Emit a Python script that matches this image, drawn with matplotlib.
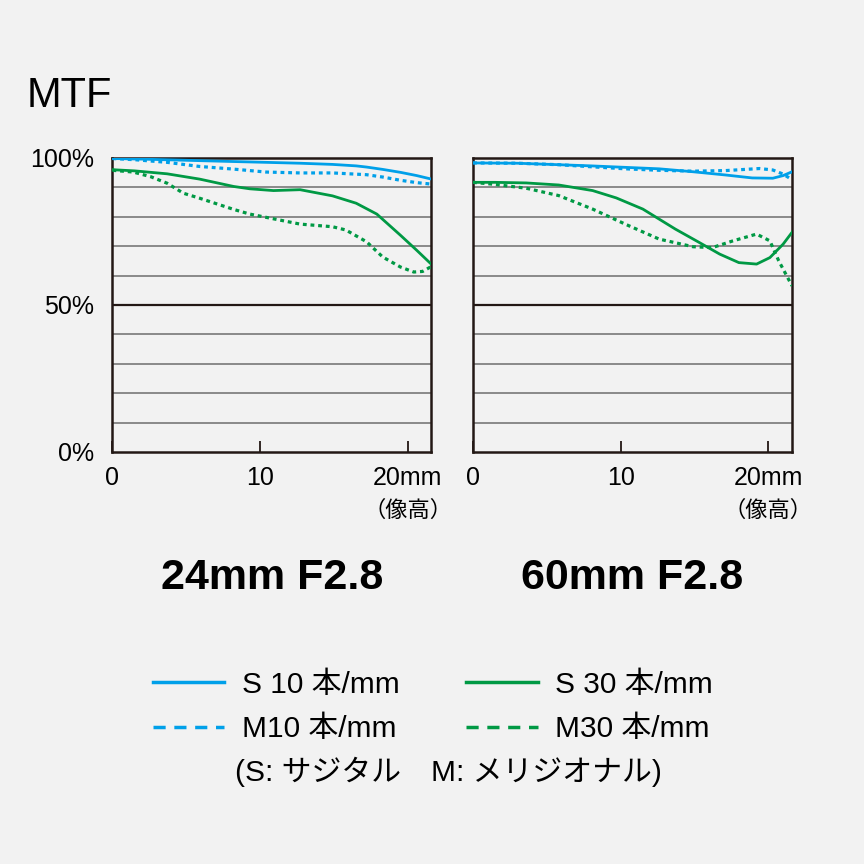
import matplotlib
matplotlib.use('Agg')
import matplotlib.pyplot as plt
from matplotlib.lines import Line2D

# image height in mm, MTF in %
x_24_s10 = [0, 2, 5, 8, 10.4, 12.7, 14.9, 16.5, 17.2, 18.3, 19.5, 20.6, 21.6]
y_24_s10 = [99.8, 99.6, 99.2, 98.8, 98.5, 98.2, 97.8, 97.3, 96.9, 96.1, 95.1, 94.0, 92.8]
x_24_m10 = [0, 1.5, 3.7, 5.9, 8.2, 10.4, 12.7, 14.9, 17.2, 18.3, 19.5, 20.6, 21.6]
y_24_m10 = [99.8, 99.4, 98.5, 97.1, 96.2, 95.2, 94.9, 94.9, 94.3, 93.5, 92.4, 91.6, 91.1]
x_24_s30 = [0, 1.5, 3.7, 5.9, 8.2, 9.3, 10.9, 12.7, 14.9, 16.5, 17.9, 19.5, 20.6, 21.6]
y_24_s30 = [96.0, 95.6, 94.6, 92.8, 90.3, 89.5, 88.9, 89.2, 87.1, 84.6, 80.9, 73.7, 68.6, 63.8]
x_24_m30 = [0, 1.4, 2.6, 3.7, 4.8, 5.9, 8.2, 9.3, 10.4, 12.7, 14.9, 15.8, 17.2,
            18.3, 19.5, 20.4, 21.0, 21.6]
y_24_m30 = [95.8, 95.2, 93.6, 91.4, 88.0, 86.3, 82.5, 80.9, 79.8, 77.5, 76.6, 75.5, 71.5,
            66.3, 62.9, 61.2, 61.4, 63.1]

x_60_s10 = [0, 3, 5.8, 8, 10.3, 12.6, 14.9, 17.1, 18.9, 20.3, 21.0, 21.6]
y_60_s10 = [98.3, 98.2, 97.7, 97.3, 96.8, 96.3, 95.3, 94.2, 93.2, 93.1, 94.0, 95.3]
x_60_m10 = [0, 3, 5.8, 8, 10.3, 12.6, 14.9, 17.1, 19.4, 20.3, 21.0, 21.6]
y_60_m10 = [98.3, 98.2, 97.7, 97.0, 96.3, 95.8, 95.5, 95.7, 96.4, 95.9, 94.5, 92.6]
x_60_s30 = [0, 1.5, 3.6, 5.8, 8.1, 9.7, 11.5, 13.7, 15.3, 16.7, 18.0, 19.2, 20.1, 21.0, 21.6]
y_60_s30 = [91.7, 91.7, 91.5, 90.8, 88.9, 86.4, 82.6, 75.8, 71.3, 67.3, 64.4, 63.9, 66.1, 70.7, 74.7]
x_60_m30 = [0, 1.3, 3.6, 5.8, 8.1, 10.3, 12.6, 14.9, 16.2, 17.6, 19.2, 20.1, 20.7, 21.6]
y_60_m30 = [91.7, 91.1, 89.7, 87.2, 82.6, 77.5, 72.4, 69.8, 69.5, 71.8, 74.1, 71.8, 65.0, 56.5]

titles = ['24mm F2.8', '60mm F2.8']
series_labels = ['S 10 本/mm', 'M10 本/mm', 'S 30 本/mm', 'M30 本/mm']

blue = '#00a0e9'
green = '#009944'
ink = '#231815'
bg = '#f2f2f2'
latin_jp = ['Liberation Sans', 'Noto Sans CJK JP']

fig = plt.figure(figsize=(8.64, 8.64), dpi=100)
fig.patch.set_facecolor(bg)

ax1 = fig.add_axes([0.1302, 0.4769, 0.3692, 0.3403])
ax2 = fig.add_axes([0.5475, 0.4769, 0.3692, 0.3403])

data = [
    (x_24_s10, y_24_s10, x_24_m10, y_24_m10, x_24_s30, y_24_s30, x_24_m30, y_24_m30),
    (x_60_s10, y_60_s10, x_60_m10, y_60_m10, x_60_s30, y_60_s30, x_60_m30, y_60_m30),
]

for i, ax in enumerate([ax1, ax2]):
    ax.set_facecolor(bg)
    xs10, ys10, xm10, ym10, xs30, ys30, xm30, ym30 = data[i]
    ax.set_xlim(0, 21.6)
    ax.set_ylim(0, 100)
    # grid every 10%, black line at 50%
    ax.set_yticks(range(0, 101, 10))
    for v in range(10, 100, 10):
        ax.axhline(v, color='#6e6e6e', lw=1.1, zorder=1)
    ax.axhline(50, color=ink, lw=1.6, zorder=1.5)
    ax.plot(xs30, ys30, color=green, lw=2.0, zorder=3)
    ax.plot(xm30, ym30, color=green, lw=2.3, ls=(0, (1.2, 1.2)), zorder=3)
    ax.plot(xs10, ys10, color=blue, lw=2.0, zorder=4)
    ax.plot(xm10, ym10, color=blue, lw=2.3, ls=(0, (1.2, 1.2)), zorder=4)
    for sp in ax.spines.values():
        sp.set_color(ink)
        sp.set_linewidth(1.8)
    ax.set_xticks([0, 10, 20])
    ax.set_xticklabels(['0', '10', '20mm'], family=latin_jp, fontsize=18)
    ax.tick_params(axis='x', direction='in', length=8, width=1.3, color=ink, pad=10)
    if i == 0:
        ax.set_yticklabels(['0%', '', '', '', '', '50%', '', '', '', '', '100%'],
                           family=latin_jp, fontsize=18)
        ax.tick_params(axis='y', length=0, pad=13)
    else:
        ax.set_yticklabels([])
        ax.tick_params(axis='y', length=0)
    ax.text(20, -20, '（像高）', family=['Noto Sans CJK JP'], fontsize=16,
            ha='center', va='center', clip_on=False)
    ax.text(0.5, -0.43, titles[i], transform=ax.transAxes, family=latin_jp,
            fontweight='bold', fontsize=31, ha='center', va='center')

fig.text(27 / 864, 1 - 96 / 864, 'MTF', family=latin_jp, fontsize=30, va='center', ha='left')

# legend
handles = [
    Line2D([], [], color=blue, lw=2.5),
    Line2D([], [], color=blue, lw=2.5, ls=(0, (3.5, 2.5))),
    Line2D([], [], color=green, lw=2.5),
    Line2D([], [], color=green, lw=2.5, ls=(0, (3.5, 2.5))),
]
leg = fig.legend(handles, series_labels, ncol=2, loc='center', bbox_to_anchor=(433 / 864, 1 - 707 / 864),
                 frameon=False, prop={'family': latin_jp, 'size': 21.5},
                 handlelength=2.4, handletextpad=0.6, columnspacing=2.2, labelspacing=0.55)
fig.text(448 / 864, 1 - 772 / 864, '(S: サジタル　M: メリジオナル)', family=latin_jp,
         fontsize=21.5, ha='center', va='center')

fig.savefig('out.png', dpi=100, facecolor=bg)
